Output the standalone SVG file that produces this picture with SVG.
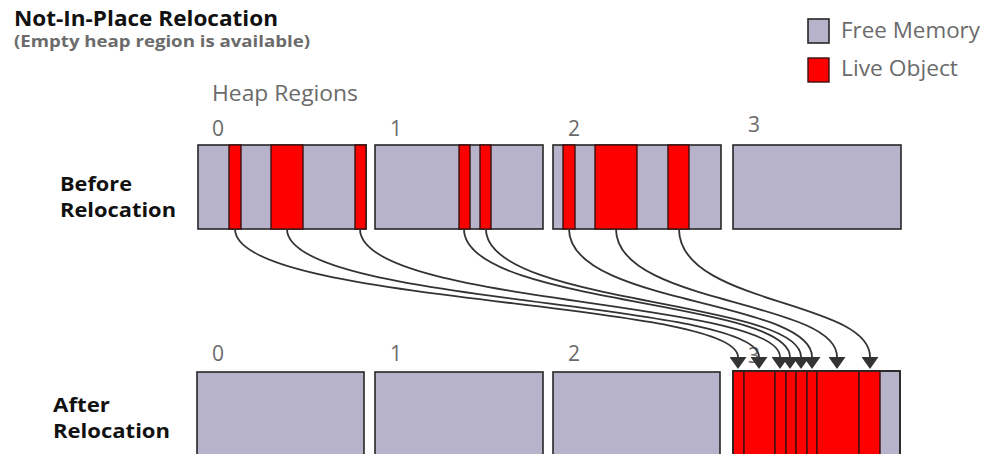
<svg xmlns="http://www.w3.org/2000/svg" width="1000" height="454" viewBox="0 0 1000 454">
<defs>
<style>
.free{fill:#b6b3cb;stroke:#262626;stroke-width:1.6}
.live{fill:#ff0000;stroke:#3a1010;stroke-width:1.4}
.title{font-family:"Open Sans","Noto Sans",sans-serif;font-weight:bold;fill:#111}
.gray{font-family:"Open Sans","Noto Sans",sans-serif;fill:#6b6b6b}
.conn{fill:none;stroke:#333;stroke-width:1.8}
</style>
<marker id="arr" viewBox="0 0 12 17" refX="0" refY="8.5" markerWidth="12" markerHeight="17" markerUnits="userSpaceOnUse" orient="auto">
<path d="M0,0 L12,8.5 L0,17 z" fill="#333"/>
</marker>
</defs>
<rect width="1000" height="454" fill="#fff"/>

<g id="titles">
<text class="title" x="14" y="26" font-size="21" textLength="264" lengthAdjust="spacingAndGlyphs">Not-In-Place Relocation</text>
<text class="gray" x="14" y="47" font-size="16" font-weight="bold" textLength="296" lengthAdjust="spacingAndGlyphs">(Empty heap region is available)</text>
<text class="gray" x="212" y="101" font-size="21" textLength="146" lengthAdjust="spacingAndGlyphs">Heap Regions</text>
<text class="title" font-size="19"><tspan x="60" y="191" textLength="72" lengthAdjust="spacingAndGlyphs">Before</tspan><tspan x="60" y="217" textLength="116" lengthAdjust="spacingAndGlyphs">Relocation</tspan></text>
<text class="title" font-size="19"><tspan x="53" y="412" textLength="57" lengthAdjust="spacingAndGlyphs">After</tspan><tspan x="53" y="438" textLength="117" lengthAdjust="spacingAndGlyphs">Relocation</tspan></text>
</g>

<g id="legend">
<rect class="free" x="808" y="19" width="21" height="24"/>
<text class="gray" x="841" y="38" font-size="21" textLength="139" lengthAdjust="spacingAndGlyphs">Free Memory</text>
<rect class="live" x="808" y="58" width="21" height="24"/>
<text class="gray" x="841" y="76" font-size="21" textLength="117" lengthAdjust="spacingAndGlyphs">Live Object</text>
</g>

<g id="before-region-0">
<text class="gray" x="212" y="136" font-size="21">0</text>
<rect class="free" x="198" y="145" width="168" height="84"/>
<rect class="live" x="229" y="145" width="12" height="84"/>
<rect class="live" x="271" y="145" width="32" height="84"/>
<rect class="live" x="355" y="145" width="11" height="84"/>
</g>
<g id="before-region-1">
<text class="gray" x="390" y="136" font-size="21">1</text>
<rect class="free" x="375" y="145" width="168" height="84"/>
<rect class="live" x="459" y="145" width="11" height="84"/>
<rect class="live" x="480" y="145" width="11" height="84"/>
</g>
<g id="before-region-2">
<text class="gray" x="568" y="136" font-size="21">2</text>
<rect class="free" x="553" y="145" width="168" height="84"/>
<rect class="live" x="563" y="145" width="12" height="84"/>
<rect class="live" x="595" y="145" width="42" height="84"/>
<rect class="live" x="668" y="145" width="21" height="84"/>
</g>
<g id="before-region-3">
<text class="gray" x="748" y="132" font-size="21">3</text>
<rect class="free" x="733" y="145" width="168" height="84"/>
</g>

<g id="after-region-0">
<text class="gray" x="212" y="361" font-size="21">0</text>
<rect class="free" x="197" y="372" width="167" height="86"/>
</g>
<g id="after-region-1">
<text class="gray" x="390" y="361" font-size="21">1</text>
<rect class="free" x="375" y="372" width="168" height="86"/>
</g>
<g id="after-region-2">
<text class="gray" x="568" y="361" font-size="21">2</text>
<rect class="free" x="553" y="372" width="167" height="86"/>
</g>
<g id="after-region-3">
<text class="gray" x="748" y="363" font-size="21">3</text>
<rect class="free" x="733" y="371" width="167" height="87"/>
<rect class="live" x="733" y="371" width="11" height="87"/>
<rect class="live" x="744" y="371" width="31" height="87"/>
<rect class="live" x="775" y="371" width="11" height="87"/>
<rect class="live" x="786" y="371" width="10" height="87"/>
<rect class="live" x="796" y="371" width="11" height="87"/>
<rect class="live" x="807" y="371" width="10" height="87"/>
<rect class="live" x="817" y="371" width="42" height="87"/>
<rect class="live" x="859" y="371" width="21" height="87"/>
<rect x="733" y="371" width="167" height="87" fill="none" stroke="#262626" stroke-width="1.6"/>
</g>

<g id="connectors">
<path class="conn" marker-end="url(#arr)" d="M235,229 C235,305 738,300 738,357"/>
<path class="conn" marker-end="url(#arr)" d="M287,229 C287,305 759,300 759,357"/>
<path class="conn" marker-end="url(#arr)" d="M360,229 C360,305 780,300 780,357"/>
<path class="conn" marker-end="url(#arr)" d="M464,229 C464,305 790,300 790,357"/>
<path class="conn" marker-end="url(#arr)" d="M486,229 C486,305 801,300 801,357"/>
<path class="conn" marker-end="url(#arr)" d="M569,229 C569,305 812,300 812,357"/>
<path class="conn" marker-end="url(#arr)" d="M616,229 C616,305 837,300 837,357"/>
<path class="conn" marker-end="url(#arr)" d="M679,229 C679,305 870,300 870,357"/>
</g>
</svg>
